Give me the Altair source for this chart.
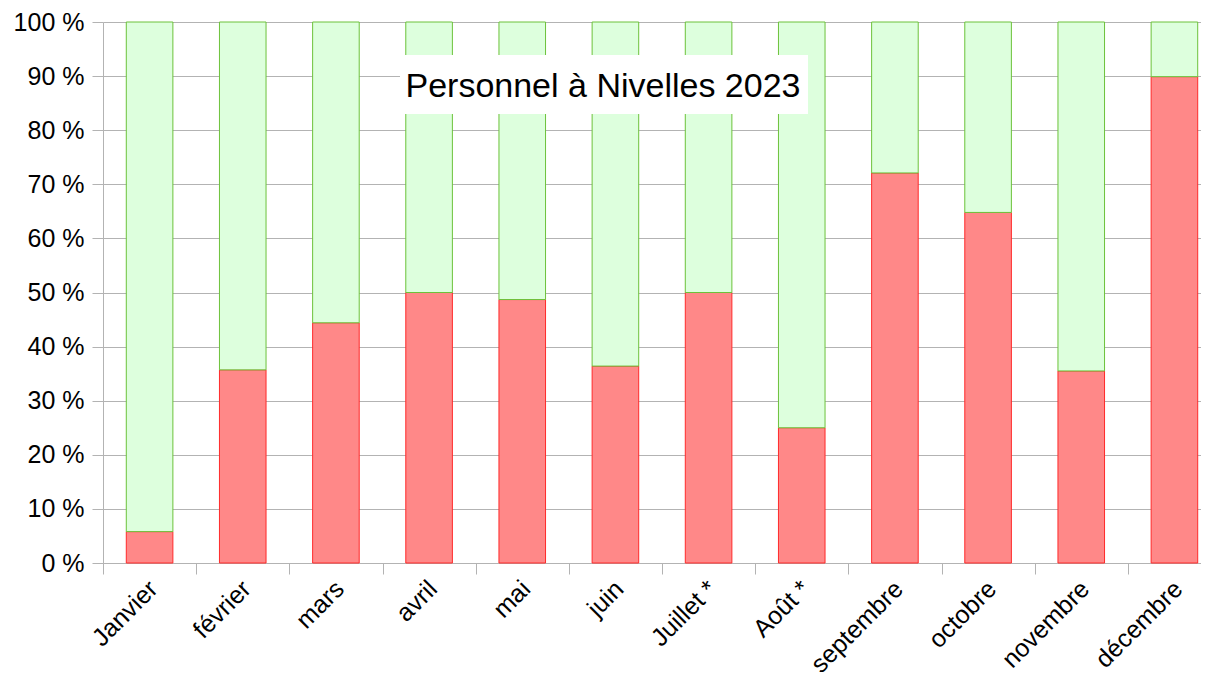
import altair as alt
import pandas as pd

months = ["Janvier", "février", "mars", "avril", "mai", "juin",
          "Juillet *", "Août *", "septembre", "octobre", "novembre", "décembre"]
series = ["Série A", "Série B"]
red_pct = [5.8, 35.7, 44.4, 50.0, 48.7, 36.4, 50.0, 25.0, 72.1, 64.8, 35.5, 89.9]
green_pct = [94.2, 64.3, 55.6, 50.0, 51.3, 63.6, 50.0, 75.0, 27.9, 35.2, 64.5, 10.1]
y_ticks = [0, 10, 20, 30, 40, 50, 60, 70, 80, 90, 100]
title_text = "Personnel à Nivelles 2023"

rows = []
for m, r, g in zip(months, red_pct, green_pct):
    rows.append({"mois": m, "serie": series[0], "valeur": r, "rang": 0})
    rows.append({"mois": m, "serie": series[1], "valeur": g, "rang": 1})
df = pd.DataFrame(rows)

FONT = "Liberation Sans"
GRID = "#b3b3b3"

bars = alt.Chart(df).mark_bar(width=alt.RelativeBandSize(0.5), strokeWidth=1).encode(
    x=alt.X("mois:N", sort=months,
            scale=alt.Scale(range=[0, 1118], paddingInner=0, paddingOuter=0),
            axis=alt.Axis(title=None, labelAngle=-45, labelFontSize=25, labelFont=FONT,
                          labelColor="black", tickBand="extent", tickSize=11,
                          tickColor=GRID, domainColor=GRID, grid=False,
                          labelPadding=2, labelOffset=-5)),
    y=alt.Y("valeur:Q", stack="zero",
            scale=alt.Scale(domain=[0, 100], nice=False),
            axis=alt.Axis(title=None, values=y_ticks, labelExpr="datum.value + ' %'",
                          labelFontSize=25, labelFont=FONT, labelColor="black",
                          tickSize=11, tickColor=GRID, domainColor=GRID,
                          gridColor=GRID, labelPadding=8)),
    color=alt.Color("serie:N", scale=alt.Scale(domain=series, range=["#ff8888", "#ddffdd"]), legend=None),
    stroke=alt.Stroke("serie:N", scale=alt.Scale(domain=series, range=["#ff2a2a", "#6cc23a"]), legend=None),
    order=alt.Order("rang:Q"),
)

box = alt.Chart(pd.DataFrame({"t": [title_text]})).mark_rect(color="white").encode(
    x=alt.value(297), x2=alt.value(705), y=alt.value(33), y2=alt.value(92)
)
title = alt.Chart(pd.DataFrame({"t": [title_text]})).mark_text(
    font=FONT, fontSize=34, color="black", align="center", baseline="alphabetic"
).encode(x=alt.value(500), y=alt.value(75), text="t:N")

chart = alt.layer(bars, box, title).properties(
    width=1098, height=541,
    autosize=alt.AutoSizeParams(type="none"),
    padding={"left": 95, "top": 14, "right": 0, "bottom": 109},
    background="white",
).configure_view(stroke=None)

chart.save("out.html", embed_options={"renderer": "svg", "actions": False})
